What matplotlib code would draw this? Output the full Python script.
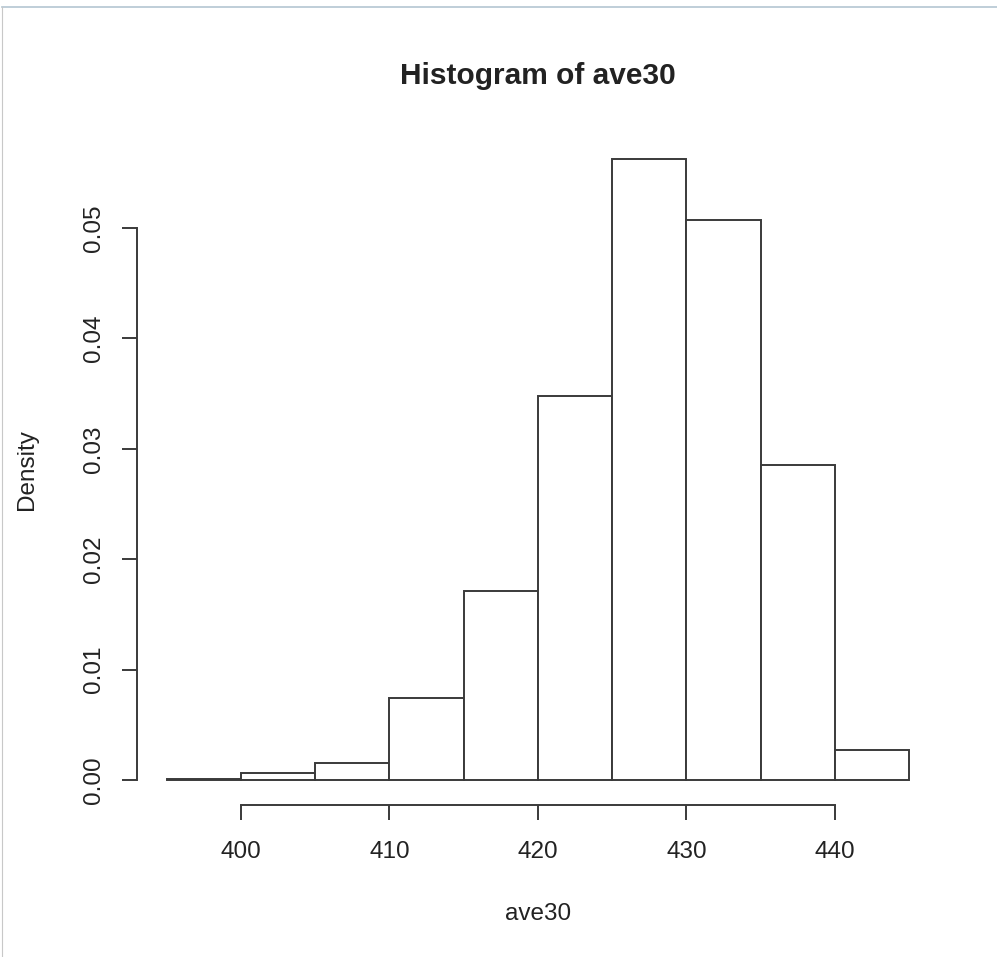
import matplotlib
matplotlib.use("Agg")
import matplotlib.pyplot as plt
from matplotlib.lines import Line2D

# Histogram of ave30: bin edges and densities
bin_edges = [395, 400, 405, 410, 415, 420, 425, 430, 435, 440, 445]
densities = [0.0001, 0.00066, 0.00157, 0.00746, 0.01715, 0.0348, 0.05628, 0.0507, 0.0285, 0.00269]
x_ticks = [400, 410, 420, 430, 440]
y_ticks = [0.00, 0.01, 0.02, 0.03, 0.04, 0.05]
y_tick_labels = ["0.00", "0.01", "0.02", "0.03", "0.04", "0.05"]

W, H = 997, 957
plt.rcParams["font.family"] = ["Liberation Sans", "DejaVu Sans"]
fig = plt.figure(figsize=(W / 100, H / 100), dpi=100)
fig.patch.set_facecolor("white")

# plot region in pixels
left, right, top, bottom = 137, 938.7, 134.2, 804.8
ax = fig.add_axes([left / W, 1 - bottom / H, (right - left) / W, (bottom - top) / H])

line_col = "#3a3a3a"
text_col = "#222222"

lefts = bin_edges[:-1]
widths = [b - a for a, b in zip(bin_edges[:-1], bin_edges[1:])]
ax.bar(lefts, densities, width=widths, align="edge", facecolor="white",
       edgecolor=line_col, linewidth=1.4)

ax.set_xlim(393, 447)
ax.set_ylim(-0.00225, 0.0585)

for s in ["top", "right"]:
    ax.spines[s].set_visible(False)
ax.spines["left"].set_bounds(0, 0.05)
ax.spines["bottom"].set_bounds(400, 440)
for s in ["left", "bottom"]:
    ax.spines[s].set_color(line_col)
    ax.spines[s].set_linewidth(1.4)

ax.set_xticks(x_ticks)
ax.set_xticklabels([str(v) for v in x_ticks])
ax.set_yticks(y_ticks)
ax.set_yticklabels(y_tick_labels, rotation=90, va="center")
ax.tick_params(axis="both", direction="out", length=10.8, width=1.4,
               color=line_col, labelcolor=text_col, labelsize=17.5)
ax.tick_params(axis="x", pad=15.5)
ax.tick_params(axis="y", pad=12)

fig.text(537.9 / W, 1 - 76 / H, "Histogram of ave30", ha="center", va="center",
         fontsize=21.5, fontweight="bold", color=text_col)
fig.text(537.9 / W, 1 - 914 / H, "ave30", ha="center", va="center",
         fontsize=17.5, color=text_col)
fig.text(27 / W, 1 - 469.5 / H, "Density", ha="center", va="center",
         rotation=90, fontsize=17.5, color=text_col)

# thin frame lines along the top and left edges
fig.add_artist(Line2D([2 / W, 1], [1 - 7 / H, 1 - 7 / H], transform=fig.transFigure,
                      color="#b4c6d2", linewidth=1.2))
fig.add_artist(Line2D([2 / W, 2 / W], [0, 1 - 7 / H], transform=fig.transFigure,
                      color="#c8c8c8", linewidth=0.8))

fig.savefig("out.png", dpi=100, facecolor="white")
